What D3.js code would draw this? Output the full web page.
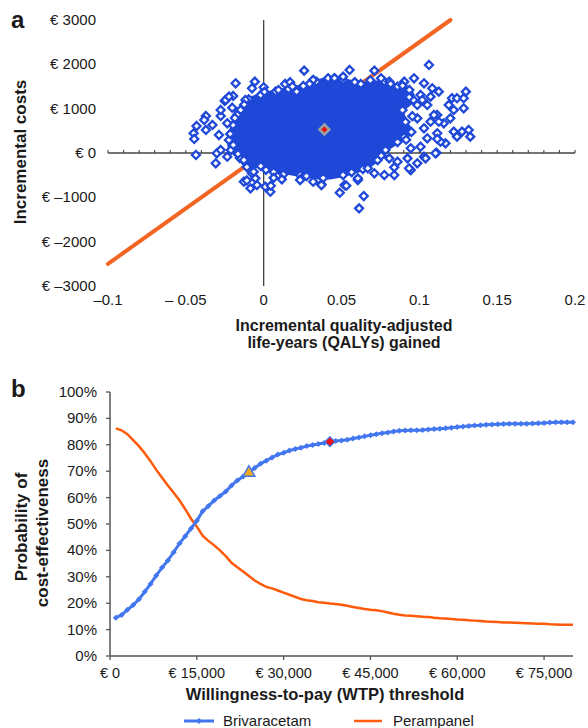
<!DOCTYPE html>
<meta charset="utf-8">
<head>
<script src="https://d3js.org/d3.v7.min.js"></script>
<style>
  body { margin: 0; background: #fff; font-family: "Liberation Sans", Arial, sans-serif; }
  text { fill: #1a1a1a; }
</style>
</head>
<body>
<div id="chart"></div>
<script>

// ---------- panel a: cost-effectiveness plane ----------
var qalyTicks = [-0.1, -0.05, 0, 0.05, 0.1, 0.15, 0.2];
var qalyTickLabels = ["\u20130.1", "\u2013 0.05", "0", "0.05", "0.1", "0.15", "0.2"];
var costTicks = [3000, 2000, 1000, 0, -1000, -2000, -3000];
var costTickLabels = ["\u20ac 3000", "\u20ac 2000", "\u20ac 1000", "\u20ac 0", "\u20ac \u20131000", "\u20ac \u20132000", "\u20ac \u20133000"];

// willingness-to-pay threshold line (25,000 per QALY)
var wtpLineQaly = [-0.1, 0.12];
var wtpLineCost = [-2500, 3000];

// dense centre of the simulation cloud (outline, QALY / cost)
var coreQaly = [-0.0159, -0.0096, -0.0019, 0.0076, 0.0159, 0.0255, 0.0338, 0.0414, 0.051, 0.0624,
  0.0775, 0.086, 0.0936, 0.0962, 0.0892, 0.0911, 0.0949, 0.0903, 0.086, 0.0783, 0.0732, 0.0637,
  0.051, 0.0382, 0.0236, 0.0127, 0.0064, -0.0019, -0.0108, -0.0153, -0.021, -0.0223, -0.0197];
var coreCost = [925, 1196, 1309, 1384, 1444, 1512, 1609, 1670, 1648, 1557,
  1609, 1496, 1422, 1196, 970, 700, 474, 361, 248, 68, -158, -361,
  -497, -564, -497, -429, -429, -293, -316, -113, 68, 293, 632];

// individual simulations visible around the centre
var simQaly = [0.026, -0.018, -0.0057, 0.0, -0.0075, -0.0196, -0.025, -0.0096, -0.0202, -0.0371,
  -0.0276, -0.0431, -0.0329, -0.045, -0.0371, -0.0287, -0.0234, 0.0138, 0.017, 0.0212,
  -0.0148, -0.017, -0.0435, -0.0308, -0.0382, -0.0276, -0.0244, -0.0117, -0.0223, -0.0127,
  -0.0085, 0.0043, -0.0043, 0.0011, -0.0075, -0.0301, 0.0046, -0.0053, -0.0064, -0.0127,
  -0.0234, -0.0276, -0.0446, 0.0244, 0.0318, 0.0371, 0.0127, 0.1062, 0.0552, 0.0711,
  0.0414, 0.051, 0.0754, 0.0807, 0.0903, 0.0966, 0.103, 0.1083, 0.1125, 0.0987,
  0.1051, 0.1008, 0.121, 0.1242, 0.1285, 0.1189, 0.1221, 0.1285, 0.1199, 0.1115,
  0.1072, 0.1157, 0.1221, 0.1274, 0.1115, 0.103, 0.0987, 0.1299, 0.1317, 0.1327,
  0.1242, 0.1168, 0.1136, 0.111, 0.103, 0.0987, 0.0945, 0.0839, 0.0775, 0.0711,
  0.0605, 0.052, 0.0489, 0.0643, 0.0613, 0.0234, 0.0117, 0.1125, 0.1094, 0.1019,
  0.1072, 0.0531, 0.0605, 0.0807, 0.086, 0.0839, 0.0934, 0.104, 0.1104, 0.0924,
  0.0945, 0.1008, 0.1051, 0.1115, 0.0669, 0.0371, -0.0108, 0.0064, 0.0318, 0.0892,
  -0.0125, -0.0185, -0.0215, 0.0005, 0.0095, 0.0185, 0.0295, 0.0455, 0.0585, 0.0685,
  0.0815, 0.0935, 0.0955, 0.0915, 0.0755, 0.0565, 0.0275, 0.0015, -0.0165, -0.0195];
var simCost = [1858, 1573, 1609, 1483, 1460, 1286, 1174, 1212, 1022, 835,
  835, 609, 632, 445, 519, 406, 670, 1557, 1596, 1384,
  970, 858, -45, -232, 745, 970, 1196, 1196, 1271, -648,
  -797, -873, -722, -761, -458, -7, -738, -571, -422, -158,
  -84, 68, 316, -571, -648, -706, -481, 1986, 1873, 1858,
  1686, 1722, 1686, 1609, 1609, 1686, 1573, 1460, 1384, 1083,
  1083, 1309, 1235, 1235, 1235, 1083, 970, 1009, 783, 858,
  706, 670, 481, 481, 445, 557, 783, 1384, 519, 368,
  368, 219, 255, 7, -84, -232, -384, -497, -497, -458,
  -609, -722, -896, -970, -1248, -609, -594, 706, 858, 1196,
  1271, -738, -571, -120, -196, -323, -345, -120, -7, -120,
  106, 142, 332, 316, -345, -722, -620, -560, 1650, 1520,
  1090, 790, 430, 1380, 1420, 1500, 1560, 1690, 1600, 1640,
  1560, 1260, 830, 300, -60, -430, -520, -380, -20, 180];

var meanQaly = 0.039, meanCost = 530;

// ---------- panel b: acceptability curves ----------
var wtp = d3.range(1, 81).map(function(k) { return k * 1000; });
var wtpTicks = [0, 15000, 30000, 45000, 60000, 75000];
var wtpTickLabels = ["\u20ac 0", "\u20ac 15,000", "\u20ac 30,000", "\u20ac 45,000", "\u20ac 60,000", "\u20ac 75,000"];
var probTicks = [0, 10, 20, 30, 40, 50, 60, 70, 80, 90, 100];

var brivaracetam = [14.5, 15.5, 17.5, 19.3, 21.5, 24.3, 27.3, 30.5, 33.5, 36.2,
  39.3, 42.6, 45.4, 48.3, 51.2, 54.8, 56.8, 58.9, 60.6, 62.3,
  64.6, 66.5, 68.0, 69.5, 71.2, 72.8, 74.0, 75.2, 76.3, 77.0,
  77.8, 78.4, 78.9, 79.5, 79.9, 80.3, 80.7, 81.2, 81.4, 81.6,
  81.9, 82.4, 82.8, 83.2, 83.6, 84.0, 84.4, 84.7, 85.0, 85.3,
  85.4, 85.5, 85.5, 85.6, 85.8, 86.0, 86.1, 86.3, 86.5, 86.7,
  86.9, 87.1, 87.3, 87.4, 87.6, 87.7, 87.8, 87.9, 88.0, 88.0,
  88.0, 88.0, 88.1, 88.2, 88.3, 88.4, 88.5, 88.5, 88.5, 88.5];
var perampanel = [86.2, 85.5, 84.0, 81.8, 79.5, 76.8, 73.8, 70.5, 67.5, 64.6,
  61.8, 59.0, 55.6, 52.0, 49.0, 45.6, 43.6, 41.9, 40.0, 37.8,
  35.3, 33.6, 32.0, 30.3, 28.6, 27.3, 26.2, 25.6, 24.8, 24.0,
  23.2, 22.4, 21.6, 21.1, 20.8, 20.4, 20.2, 19.9, 19.7, 19.4,
  19.0, 18.6, 18.2, 17.8, 17.5, 17.3, 17.0, 16.5, 16.0, 15.6,
  15.3, 15.2, 15.1, 14.9, 14.8, 14.5, 14.3, 14.2, 14.0, 13.8,
  13.7, 13.5, 13.4, 13.3, 13.1, 13.0, 12.9, 12.7, 12.7, 12.6,
  12.5, 12.4, 12.3, 12.2, 12.2, 12.0, 11.9, 11.8, 11.8, 11.8];

var triangleWtp = 24000, triangleProb = 69.8;
var diamondWtp = 38000, diamondProb = 81.2;

var svg = d3.select("#chart").append("svg")
  .attr("width", 588).attr("height", 728);

var scatterBlue = "#1f48d8", orangeA = "#f26522";
var blueB = "#4377f0", orangeB = "#ff5a0a";
var diamond = "M0,-4L4,0L0,4L-4,0Z";

// ===== panel a =====
var xA = d3.scaleLinear().domain([-0.1, 0.2]).range([108, 575]);
var yA = d3.scaleLinear().domain([-3000, 3000]).range([286, 20]);

svg.append("text").attr("x", 11).attr("y", 28)
  .style("font-size", "24px").style("font-weight", "bold").text("a");

// axes through origin
svg.append("line")
  .attr("x1", xA(0)).attr("x2", xA(0)).attr("y1", yA(3000)).attr("y2", yA(-3000))
  .attr("stroke", "#444").attr("stroke-width", 1.3);
svg.append("line")
  .attr("x1", xA(-0.1)).attr("x2", xA(0.2)).attr("y1", yA(0)).attr("y2", yA(0))
  .attr("stroke", "#444").attr("stroke-width", 1.3);
svg.selectAll(".minor").data(d3.range(-10, 21)).enter().append("line")
  .attr("x1", function(d) { return xA(d / 100); })
  .attr("x2", function(d) { return xA(d / 100); })
  .attr("y1", yA(0)).attr("y2", yA(0) - 3)
  .attr("stroke", "#444").attr("stroke-width", 1.1);

svg.selectAll(".ylabA").data(costTicks).enter().append("text")
  .attr("x", 96).attr("y", function(d) { return yA(d) + 5; })
  .attr("text-anchor", "end").style("font-size", "15px")
  .text(function(d, i) { return costTickLabels[i]; });
svg.selectAll(".xlabA").data(qalyTicks).enter().append("text")
  .attr("x", function(d) { return xA(d); }).attr("y", 305)
  .attr("text-anchor", "middle").style("font-size", "15px")
  .text(function(d, i) { return qalyTickLabels[i]; });

svg.append("text").attr("x", 344).attr("y", 331).attr("text-anchor", "middle")
  .style("font-size", "16px").style("font-weight", "bold").text("Incremental quality-adjusted");
svg.append("text").attr("x", 344).attr("y", 348).attr("text-anchor", "middle")
  .style("font-size", "16px").style("font-weight", "bold").text("life-years (QALYs) gained");
svg.append("text").attr("transform", "translate(26,152) rotate(-90)").attr("text-anchor", "middle")
  .style("font-size", "17px").style("font-weight", "bold").text("Incremental costs");

// threshold line
svg.append("path")
  .datum(d3.zip(wtpLineQaly, wtpLineCost))
  .attr("d", d3.line().x(function(d) { return xA(d[0]); }).y(function(d) { return yA(d[1]); }))
  .attr("stroke", orangeA).attr("stroke-width", 4).attr("stroke-linecap", "round").attr("fill", "none");

// dense cloud
svg.append("path")
  .datum(d3.zip(coreQaly, coreCost))
  .attr("d", d3.line().curve(d3.curveCardinalClosed.tension(0.3))
    .x(function(d) { return xA(d[0]); }).y(function(d) { return yA(d[1]); }))
  .attr("fill", scatterBlue).attr("stroke", scatterBlue).attr("stroke-width", 4)
  .attr("stroke-linejoin", "round");

svg.selectAll(".edge").data(d3.zip(coreQaly, coreCost)).enter().append("path")
  .attr("d", diamond)
  .attr("transform", function(d) { return "translate(" + xA(d[0]) + "," + yA(d[1]) + ")"; })
  .attr("fill", "#fff").attr("stroke", scatterBlue).attr("stroke-width", 2.3);

svg.selectAll(".sim").data(d3.zip(simQaly, simCost)).enter().append("path")
  .attr("d", diamond)
  .attr("transform", function(d) { return "translate(" + xA(d[0]) + "," + yA(d[1]) + ")"; })
  .attr("fill", "#fff").attr("stroke", scatterBlue).attr("stroke-width", 2.3);

svg.append("path")
  .attr("d", "M0,-5L5,0L0,5L-5,0Z")
  .attr("transform", "translate(" + xA(meanQaly) + "," + yA(meanCost) + ")")
  .attr("fill", "#f21010").attr("stroke", "#9aa3a0").attr("stroke-width", 2.5);

// ===== panel b =====
var xB = d3.scaleLinear().domain([0, 80000]).range([110, 573]);
var yB = d3.scaleLinear().domain([0, 100]).range([656, 392]);

svg.append("text").attr("x", 11).attr("y", 397)
  .style("font-size", "24px").style("font-weight", "bold").text("b");

svg.append("line").attr("x1", xB(0)).attr("x2", xB(0)).attr("y1", yB(0)).attr("y2", yB(100))
  .attr("stroke", "#555").attr("stroke-width", 1.5);
svg.append("line").attr("x1", xB(0)).attr("x2", xB(80000)).attr("y1", yB(0)).attr("y2", yB(0))
  .attr("stroke", "#555").attr("stroke-width", 1.5);
svg.selectAll(".ytB").data(probTicks).enter().append("line")
  .attr("x1", xB(0) - 4).attr("x2", xB(0))
  .attr("y1", function(d) { return yB(d); }).attr("y2", function(d) { return yB(d); })
  .attr("stroke", "#555").attr("stroke-width", 1.3);
svg.selectAll(".xtB").data(wtpTicks).enter().append("line")
  .attr("x1", function(d) { return xB(d); }).attr("x2", function(d) { return xB(d); })
  .attr("y1", yB(0)).attr("y2", yB(0) + 4)
  .attr("stroke", "#555").attr("stroke-width", 1.3);

svg.selectAll(".ylabB").data(probTicks).enter().append("text")
  .attr("x", 97).attr("y", function(d) { return yB(d) + 5; })
  .attr("text-anchor", "end").style("font-size", "15px")
  .text(function(d) { return d + "%"; });
svg.selectAll(".xlabB").data(wtpTicks).enter().append("text")
  .attr("x", function(d) { return xB(d); }).attr("y", 678)
  .attr("text-anchor", "middle").style("font-size", "14.5px")
  .text(function(d, i) { return wtpTickLabels[i]; });

svg.append("text").attr("x", 325).attr("y", 700).attr("text-anchor", "middle")
  .style("font-size", "16.5px").style("font-weight", "bold").text("Willingness-to-pay (WTP) threshold");
svg.append("text").attr("transform", "translate(27,527) rotate(-90)").attr("text-anchor", "middle")
  .style("font-size", "17px").style("font-weight", "bold").text("Probability of");
svg.append("text").attr("transform", "translate(48,533) rotate(-90)").attr("text-anchor", "middle")
  .style("font-size", "17px").style("font-weight", "bold").text("cost-effectiveness");

var lineB = d3.line().x(function(d) { return xB(d[0]); }).y(function(d) { return yB(d[1]); });

svg.append("path").datum(d3.zip(wtp, perampanel)).attr("d", lineB)
  .attr("fill", "none").attr("stroke", orangeB).attr("stroke-width", 2.5);

svg.append("path").datum(d3.zip(wtp, brivaracetam)).attr("d", lineB)
  .attr("fill", "none").attr("stroke", blueB).attr("stroke-width", 3);
svg.selectAll(".bm").data(d3.zip(wtp, brivaracetam)).enter().append("path")
  .attr("d", "M0,-3L3,0L0,3L-3,0Z")
  .attr("transform", function(d) { return "translate(" + xB(d[0]) + "," + yB(d[1]) + ")"; })
  .attr("fill", blueB);

svg.append("path")
  .attr("d", "M0,-6L6,4.5L-6,4.5Z")
  .attr("transform", "translate(" + xB(triangleWtp) + "," + yB(triangleProb) + ")")
  .attr("fill", "#f0a81c").attr("stroke", blueB).attr("stroke-width", 1.5);
svg.append("path")
  .attr("d", "M0,-5L5,0L0,5L-5,0Z")
  .attr("transform", "translate(" + xB(diamondWtp) + "," + yB(diamondProb) + ")")
  .attr("fill", "#f01010").attr("stroke", blueB).attr("stroke-width", 1.3);

// legend
var legend = svg.append("g");
legend.append("line").attr("x1", 184).attr("x2", 214).attr("y1", 721).attr("y2", 721)
  .attr("stroke", blueB).attr("stroke-width", 3);
legend.append("path").attr("d", "M0,-3L3,0L0,3L-3,0Z").attr("transform", "translate(199,721)").attr("fill", blueB);
legend.append("text").attr("x", 223).attr("y", 726).style("font-size", "15px").text("Brivaracetam");
legend.append("line").attr("x1", 354).attr("x2", 382).attr("y1", 721).attr("y2", 721)
  .attr("stroke", orangeB).attr("stroke-width", 2.5);
legend.append("text").attr("x", 393).attr("y", 726).style("font-size", "15px").text("Perampanel");

</script>
</body>
